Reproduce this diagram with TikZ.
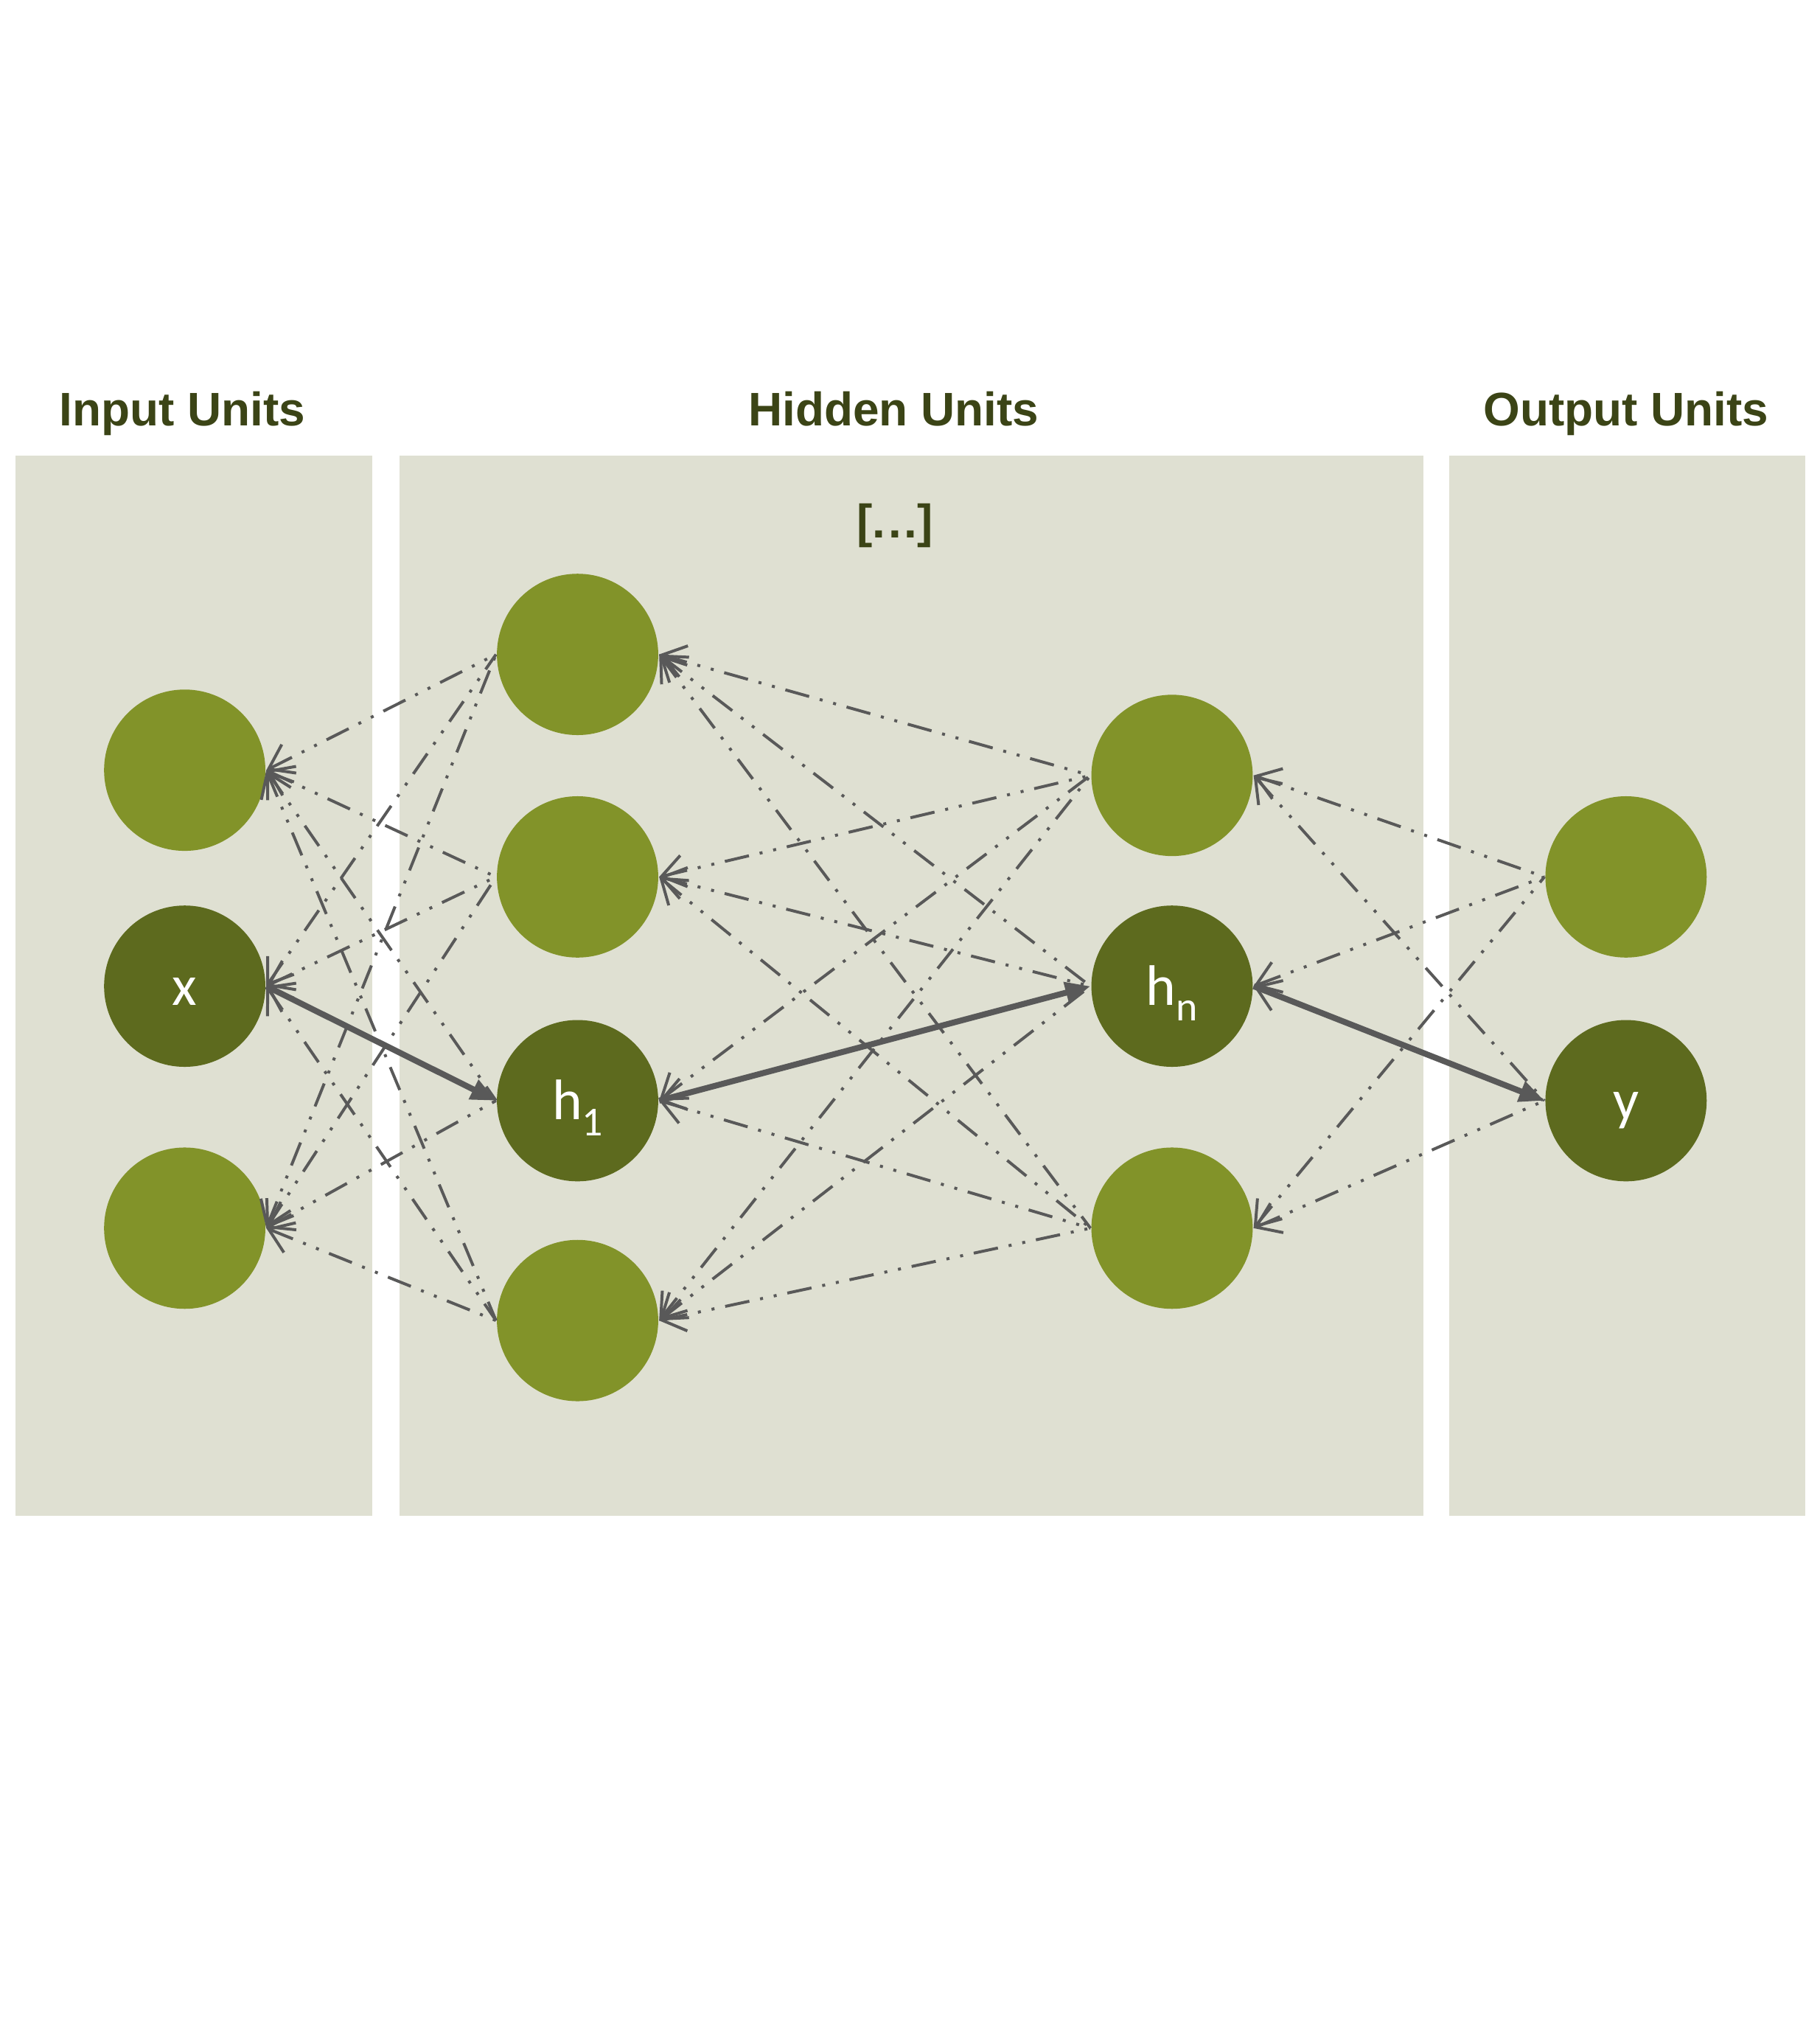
\documentclass[tikz,border=0pt]{standalone}
\usepackage{fontspec}
\setmainfont{Carlito}
\newfontfamily\headfont{Liberation Sans}
\usepackage{tikz}
\usetikzlibrary{arrows.meta,positioning}

\definecolor{panelgray}{HTML}{DFE0D2}
\definecolor{unitgreen}{HTML}{829329}
\definecolor{unitdark}{HTML}{5D6A1E}
\definecolor{headgreen}{HTML}{3B4416}
\definecolor{linkgray}{HTML}{595959}

\newcommand{\unitsub}[1]{\raisebox{-3.4pt}{\fontsize{9}{9}\selectfont #1}}

\tikzset{
	unit/.style={circle,fill=unitgreen,minimum size=1.24cm,inner sep=0pt,
		text=white,font=\fontsize{12.5}{14}\selectfont,
		text height=8.4pt,text depth=0pt},
	active/.style={unit,fill=unitdark},
	heading/.style={text=headgreen,font=\headfont\bfseries\fontsize{10.3}{12}\selectfont},
	link/.style={linkgray,line width=0.64pt,
		dash pattern=on 5.4pt off 2.4pt on 0.65pt off 2.4pt on 0.65pt off 2.4pt,
		{Straight Barb[length=5pt,width=7pt]}-},
	flow/.style={linkgray,line width=1.3pt,-{Triangle[length=5.5pt,width=4.5pt]}}
}

\begin{document}
\begin{tikzpicture}[x=1cm,y=-1cm]
	% Draw page and the three panels
	\fill[white] (0,0) rectangle (13.99,15.68);
	\fill[panelgray] (0.12,3.50) rectangle (2.86,11.65);
	\fill[panelgray] (3.07,3.50) rectangle (10.94,11.65);
	\fill[panelgray] (11.14,3.50) rectangle (13.88,11.65);
	% Headings
	\node[heading,anchor=base] (intitle) at (1.40,3.275) {Input Units};
	\node[heading,anchor=base] (hidtitle) at (6.87,3.275) {Hidden Units};
	\node[heading,anchor=base] (outtitle) at (12.50,3.275) {Output Units};
	\node[heading] (dots) at (6.88,4.04) {[.\kern0.6pt.\kern0.6pt.]};
	% Input units
	\node[unit] (i1) at (1.42,5.92) {};
	\node[active] (x) at (1.42,7.58) {x};
	\node[unit] (i3) at (1.42,9.44) {};
	% First hidden layer
	\node[unit] (a1) at (4.44,5.03) {};
	\node[unit] (a2) at (4.44,6.74) {};
	\node[active] (h1) at (4.44,8.46) {h\unitsub{1}};
	\node[unit] (a4) at (4.44,10.15) {};
	% Last hidden layer
	\node[unit] (b1) at (9.01,5.96) {};
	\node[active] (hn) at (9.01,7.58) {h\unitsub{n}};
	\node[unit] (b3) at (9.01,9.44) {};
	% Output units
	\node[unit] (o1) at (12.50,6.74) {};
	\node[active] (y) at (12.50,8.46) {y};
	% Draw all connections between neighbouring layers
	\foreach \s in {i1,x,i3}
		\foreach \t in {a1,a2,h1,a4}
			\draw[link] (\s.east) -- (\t.west);
	\foreach \s in {a1,a2,h1,a4}
		\foreach \t in {b1,hn,b3}
			\draw[link] (\s.east) -- (\t.west);
	\foreach \s in {b1,hn,b3}
		\foreach \t in {o1,y}
			\draw[link] (\s.east) -- (\t.west);
	% Highlighted path through the net
	\draw[flow] (x.east) -- (h1.west);
	\draw[flow] (h1.east) -- (hn.west);
	\draw[flow] (hn.east) -- (y.west);
\end{tikzpicture}
\end{document}
